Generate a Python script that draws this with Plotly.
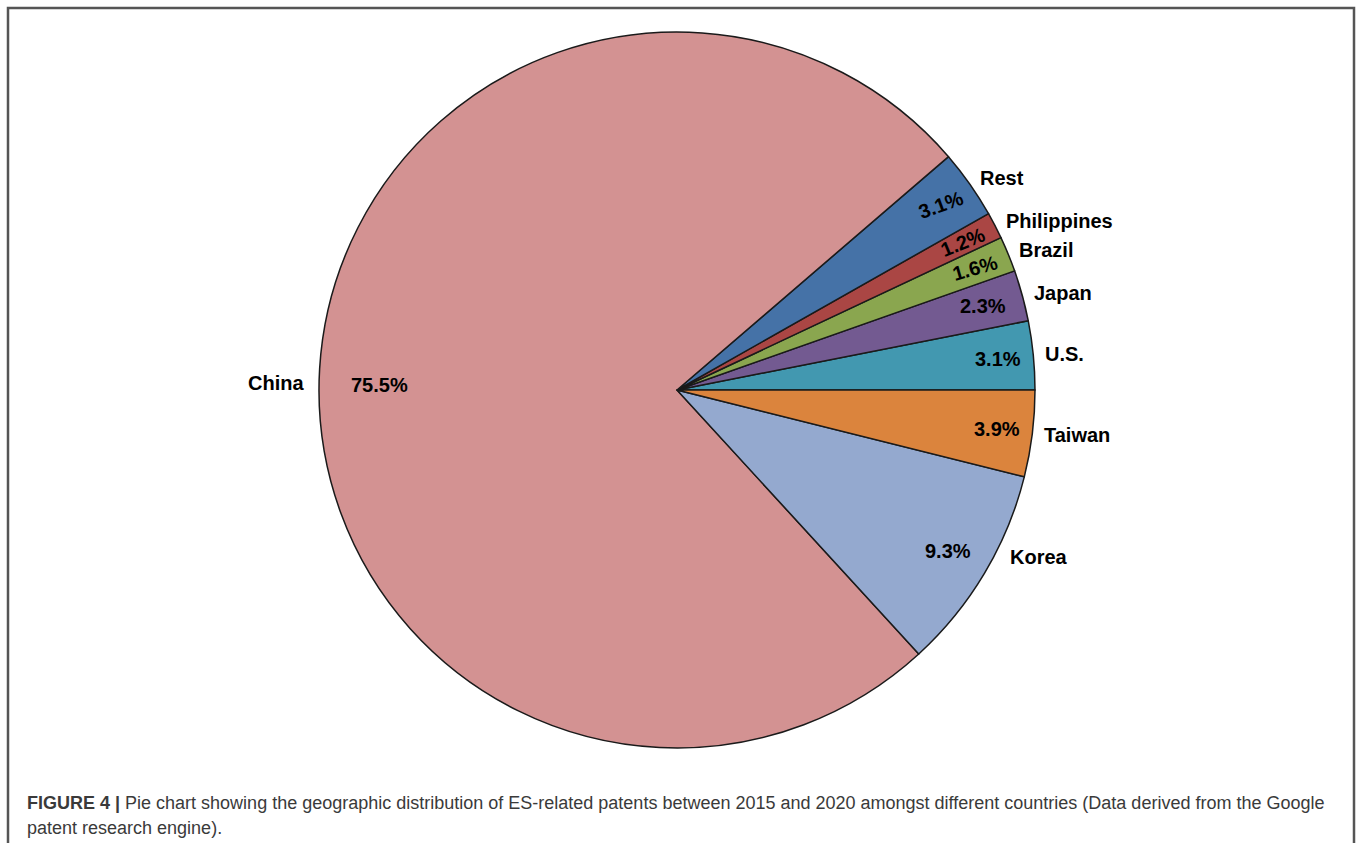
import math
import plotly.graph_objects as go

# ---- data ----
countries = ["U.S.", "Japan", "Brazil", "Philippines", "Rest", "China", "Korea", "Taiwan"]
shares = [3.1, 2.3, 1.6, 1.2, 3.1, 75.5, 9.3, 3.9]
colors = ["#4298B0", "#735A91", "#8AA64F", "#AA4644", "#4572A7", "#D39292", "#94A9CF", "#DB843D"]

# label styling (radius factor / rotation / small angle nudges)
pct_r = [0.9, 0.885, 0.9, 0.9, 0.9, 0.83, 0.88, 0.9]
pct_rot = [0, 0, -16, -22, -20, 0, 0, 0]
pct_shift = [0, 0, 0, 0, 0, 2.4, 0, 0]
name_shift = [0, 0, 0, 0, 0, 2.3, 4.0, 0]
name_gap = [10, 10, 10, 10, 10, 13, 13, 10]

caption_1 = ("<b>FIGURE 4 |</b> Pie chart showing the geographic distribution of ES-related patents "
             "between 2015 and 2020 amongst different countries (Data derived from the Google")
caption_2 = "patent research engine)."

W, H = 1358, 843
cx, cy, R = 677, 390, 358

total = sum(shares)
# plotly's counterclockwise pies end the first slice at the rotation angle;
# shift so that the first slice starts at 3 o'clock
rotation = 90 - shares[0] / total * 360

fig = go.Figure(go.Pie(
    labels=countries, values=shares, sort=False,
    direction="counterclockwise", rotation=rotation,
    marker=dict(colors=colors, line=dict(color="#1a1a1a", width=1.5)),
    textinfo="none", hoverinfo="skip", showlegend=False,
    domain=dict(x=[(cx - R) / W, (cx + R) / W], y=[(H - cy - R) / H, (H - cy + R) / H]),
))

def px2paper(x, y):
    return x / W, 1 - y / H

annotations = []
cum = 0.0
lab_font = dict(family="Liberation Sans, Arial, sans-serif", size=20, color="black")
for i, (name, v) in enumerate(zip(countries, shares)):
    a0 = cum / total * 360
    cum += v
    a1 = cum / total * 360
    mid = (a0 + a1) / 2
    # percent label
    ang = math.radians(mid + pct_shift[i])
    r = pct_r[i] * R
    x, y = px2paper(cx + r * math.cos(ang), cy - r * math.sin(ang))
    annotations.append(dict(x=x, y=y, xref="paper", yref="paper", showarrow=False,
                            text=f"<b>{v:.1f}%</b>", font=lab_font, textangle=pct_rot[i],
                            xanchor="center", yanchor="middle"))
    # name label
    ang = math.radians(mid + name_shift[i])
    r = R + name_gap[i]
    px_ = cx + r * math.cos(ang)
    x, y = px2paper(px_, cy - r * math.sin(ang))
    annotations.append(dict(x=x, y=y, xref="paper", yref="paper", showarrow=False,
                            text=f"<b>{name}</b>", font=lab_font,
                            xanchor="left" if px_ > cx else "right", yanchor="middle"))

cap_font = dict(family="Liberation Sans, Arial, sans-serif", size=18, color="#3a3a3a")
for txt, yy in [(caption_1, 803), (caption_2, 828)]:
    x, y = px2paper(25, yy)
    annotations.append(dict(x=x, y=y, xref="paper", yref="paper", showarrow=False,
                            text=txt, font=cap_font, xanchor="left", yanchor="middle", align="left"))

# frame
fx0, fy0 = px2paper(8, 8)
fx1, fy1 = px2paper(1354, 860)
shapes = [dict(type="path", xref="paper", yref="paper",
               path=f"M {fx0},{fy1} L {fx0},{fy0} L {fx1},{fy0} L {fx1},{fy1}",
               line=dict(color="#555555", width=2.5))]

fig.update_layout(width=W, height=H, margin=dict(l=0, r=0, t=0, b=0),
                  paper_bgcolor="white", plot_bgcolor="white",
                  annotations=annotations, shapes=shapes)
fig.write_html("out.html")
